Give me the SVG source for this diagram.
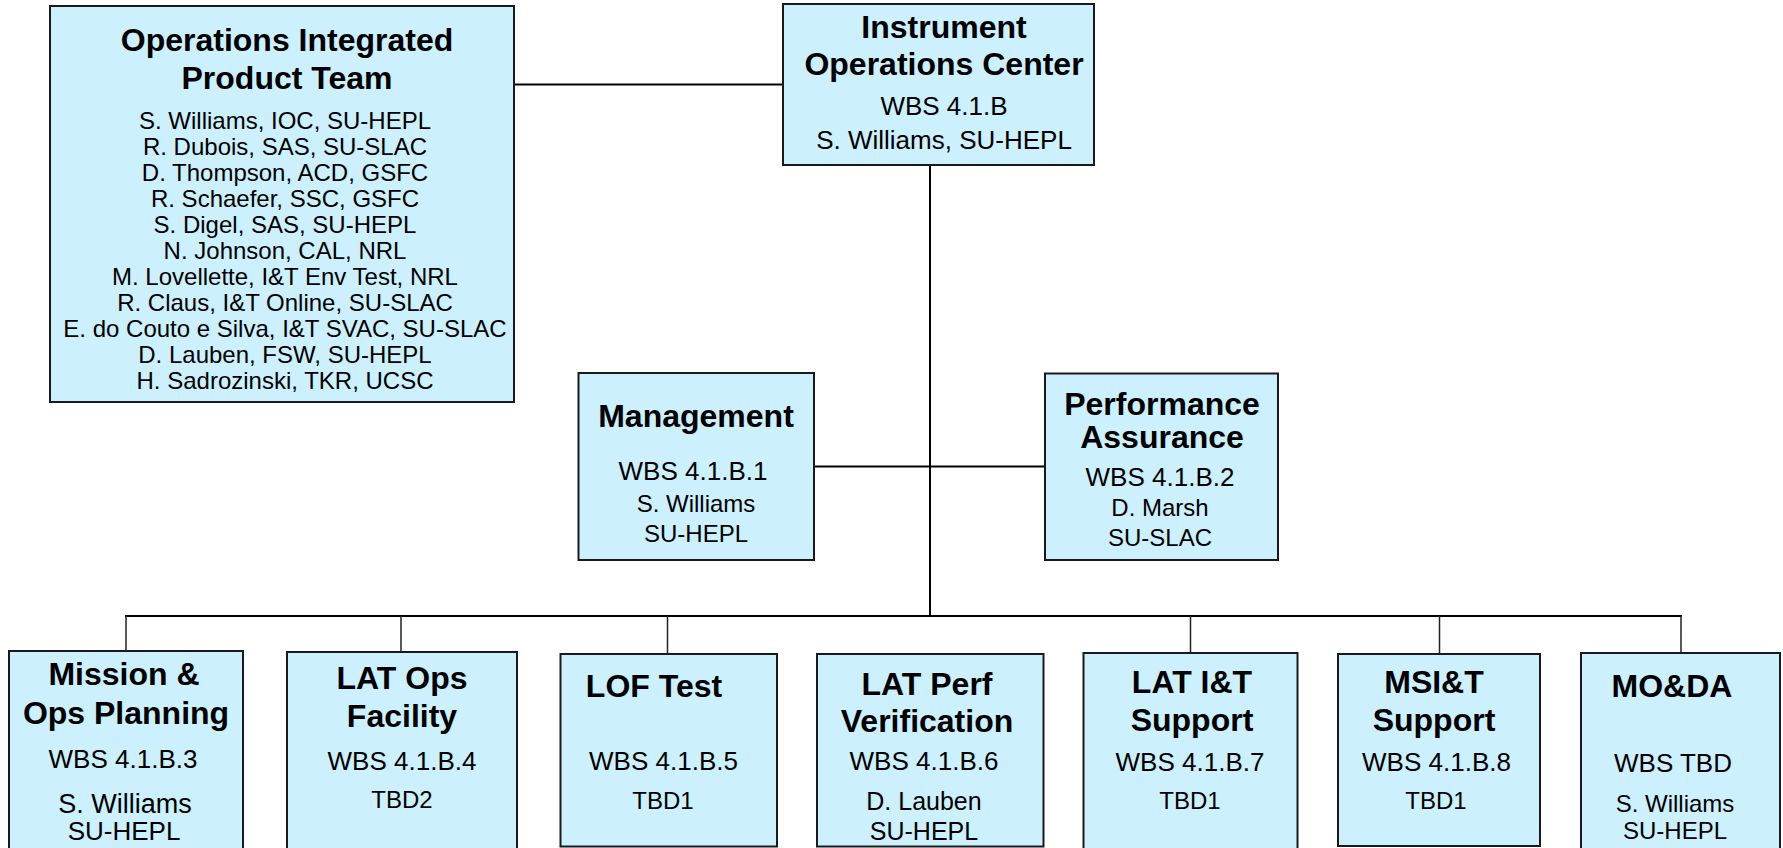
<svg xmlns="http://www.w3.org/2000/svg" width="1783" height="848" viewBox="0 0 1783 848">
  <style>
    .box { fill: #ccf0fd; stroke: #1a1a1a; stroke-width: 2; }
    .t { font-family: "Liberation Sans", Arial, sans-serif; font-weight: bold; font-size: 32px; fill: #000; text-anchor: middle; }
    .b { font-family: "Liberation Sans", Arial, sans-serif; font-size: 26px; fill: #000; text-anchor: middle; }
    .s { font-family: "Liberation Sans", Arial, sans-serif; font-size: 24px; fill: #000; text-anchor: middle; }
    .ln { stroke: #000; stroke-width: 2; fill: none; }
    .drop { stroke: #222; stroke-width: 1.5; fill: none; }
  </style>
  <rect width="1783" height="848" fill="#ffffff"/>

  <!-- connectors -->
  <g id="connectors">
    <line class="ln" x1="514" y1="84.5" x2="783" y2="84.5"/>
    <line class="ln" x1="930" y1="165" x2="930" y2="616"/>
    <line class="ln" x1="814" y1="466.5" x2="1045" y2="466.5"/>
    <line class="ln" x1="125" y1="616" x2="1682" y2="616"/>
    <line class="drop" x1="126" y1="616" x2="126" y2="651"/>
    <line class="drop" x1="401" y1="616" x2="401" y2="652"/>
    <line class="drop" x1="667.5" y1="616" x2="667.5" y2="654"/>
    <line class="drop" x1="1190.5" y1="616" x2="1190.5" y2="653"/>
    <line class="drop" x1="1439.5" y1="616" x2="1439.5" y2="654"/>
    <line class="drop" x1="1681" y1="616" x2="1681" y2="653"/>
  </g>

  <!-- Operations Integrated Product Team -->
  <g id="oipt">
    <rect class="box" x="50" y="6" width="464" height="396"/>
    <text class="t" x="287" y="51">Operations Integrated</text>
    <text class="t" x="287" y="88.5">Product Team</text>
    <text class="s" x="285" y="128.5">S. Williams, IOC, SU-HEPL</text>
    <text class="s" x="285" y="154.5">R. Dubois, SAS, SU-SLAC</text>
    <text class="s" x="285" y="180.5">D. Thompson, ACD, GSFC</text>
    <text class="s" x="285" y="206.5">R. Schaefer, SSC, GSFC</text>
    <text class="s" x="285" y="232.5">S. Digel, SAS, SU-HEPL</text>
    <text class="s" x="285" y="258.5">N. Johnson, CAL, NRL</text>
    <text class="s" x="285" y="284.5">M. Lovellette, I&amp;T Env Test, NRL</text>
    <text class="s" x="285" y="310.5">R. Claus, I&amp;T Online, SU-SLAC</text>
    <text class="s" x="285" y="336.5">E. do Couto e Silva, I&amp;T SVAC, SU-SLAC</text>
    <text class="s" x="285" y="362.5">D. Lauben, FSW, SU-HEPL</text>
    <text class="s" x="285" y="388.5">H. Sadrozinski, TKR, UCSC</text>
  </g>

  <!-- Instrument Operations Center -->
  <g id="ioc">
    <rect class="box" x="783" y="4" width="311" height="161"/>
    <text class="t" x="944" y="37.5">Instrument</text>
    <text class="t" x="944" y="75">Operations Center</text>
    <text class="b" x="944" y="115">WBS 4.1.B</text>
    <text class="b" x="944" y="149">S. Williams, SU-HEPL</text>
  </g>

  <!-- Management -->
  <g id="management">
    <rect class="box" x="578.5" y="373" width="235.5" height="187"/>
    <text class="t" x="696" y="426.5">Management</text>
    <text class="b" x="693" y="480">WBS 4.1.B.1</text>
    <text class="s" x="696" y="512">S. Williams</text>
    <text class="s" x="696" y="542">SU-HEPL</text>
  </g>

  <!-- Performance Assurance -->
  <g id="perf-assurance">
    <rect class="box" x="1045" y="373.5" width="233" height="186.5"/>
    <text class="t" x="1162" y="415">Performance</text>
    <text class="t" x="1162" y="447.5">Assurance</text>
    <text class="b" x="1160" y="486">WBS 4.1.B.2</text>
    <text class="s" x="1160" y="516">D. Marsh</text>
    <text class="s" x="1160" y="546">SU-SLAC</text>
  </g>

  <!-- Mission & Ops Planning -->
  <g id="mission-ops">
    <rect class="box" x="9" y="651" width="234" height="210"/>
    <text class="t" x="124" y="685">Mission &amp;</text>
    <text class="t" x="126" y="724">Ops Planning</text>
    <text class="b" x="123" y="768">WBS 4.1.B.3</text>
    <text class="b" x="125" y="813" style="font-size:27px">S. Williams</text>
    <text class="b" x="124" y="840">SU-HEPL</text>
  </g>

  <!-- LAT Ops Facility -->
  <g id="lat-ops">
    <rect class="box" x="287" y="652" width="230" height="210"/>
    <text class="t" x="402" y="689">LAT Ops</text>
    <text class="t" x="402" y="727">Facility</text>
    <text class="b" x="402" y="770">WBS 4.1.B.4</text>
    <text class="s" x="402" y="808">TBD2</text>
  </g>

  <!-- LOF Test -->
  <g id="lof-test">
    <rect class="box" x="560.5" y="654" width="216.5" height="192.5"/>
    <text class="t" x="654" y="696.5">LOF Test</text>
    <text class="b" x="663.5" y="770">WBS 4.1.B.5</text>
    <text class="s" x="663" y="809">TBD1</text>
  </g>

  <!-- LAT Perf Verification -->
  <g id="lat-perf">
    <rect class="box" x="817" y="654" width="226.5" height="192.5"/>
    <text class="t" x="927" y="695">LAT Perf</text>
    <text class="t" x="927" y="731.5">Verification</text>
    <text class="b" x="924" y="770">WBS 4.1.B.6</text>
    <text class="s" x="924" y="810" style="font-size:25px">D. Lauben</text>
    <text class="s" x="924" y="840" style="font-size:25px">SU-HEPL</text>
  </g>

  <!-- LAT I&T Support -->
  <g id="lat-it">
    <rect class="box" x="1083.5" y="653" width="214" height="210"/>
    <text class="t" x="1192" y="693">LAT I&amp;T</text>
    <text class="t" x="1192" y="730.5">Support</text>
    <text class="b" x="1190" y="770.5">WBS 4.1.B.7</text>
    <text class="s" x="1190" y="809">TBD1</text>
  </g>

  <!-- MSI&T Support -->
  <g id="msit">
    <rect class="box" x="1338" y="654" width="202" height="192"/>
    <text class="t" x="1434" y="693">MSI&amp;T</text>
    <text class="t" x="1434" y="730.5">Support</text>
    <text class="b" x="1436.5" y="770.5">WBS 4.1.B.8</text>
    <text class="s" x="1436" y="809">TBD1</text>
  </g>

  <!-- MO&DA -->
  <g id="moda">
    <rect class="box" x="1581" y="653" width="199" height="210"/>
    <text class="t" x="1672" y="697">MO&amp;DA</text>
    <text class="b" x="1673" y="772">WBS TBD</text>
    <text class="s" x="1675" y="811.5">S. Williams</text>
    <text class="s" x="1675" y="838.5">SU-HEPL</text>
  </g>
</svg>
